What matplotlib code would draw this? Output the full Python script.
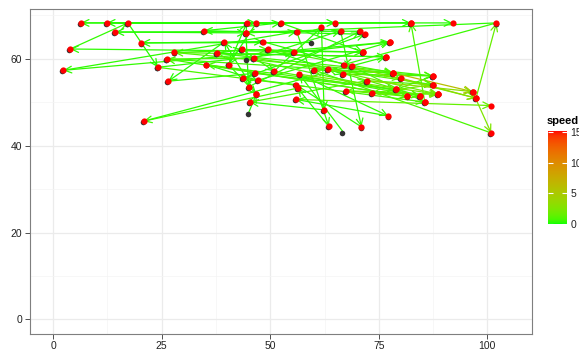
import numpy as np
import matplotlib
matplotlib.use("Agg")
import matplotlib.pyplot as plt
import matplotlib.colors as mcolors
import matplotlib.transforms as mtransforms
from matplotlib.colorbar import ColorbarBase

plt.rcParams['font.family'] = ['Liberation Sans', 'DejaVu Sans']

# ---------------- data ----------------
x_from = [82.4, 65.0, 3.9, 70.7, 71.8, 71.4, 59.6, 77.5, 17.2, 81.6,
          76.6, 39.4, 79.0, 87.5, 46.8, 46.8, 55.9, 40.4, 12.3, 14.3,
          20.3, 27.9, 26.1, 37.7, 26.5, 35.3, 44.4, 45.0, 62.4, 56.3,
          43.5, 34.7, 6.3, 85.6, 44.6, 97.4, 50.9, 2.3, 46.2, 45.0,
          43.7, 47.1, 52.4, 20.8, 24.1, 100.9, 84.5, 102.1, 48.3, 49.5,
          45.3, 60.0, 63.3, 66.8, 72.2, 73.5, 78.3, 80.1, 55.9, 96.6,
          68.8, 44.6, 67.5, 87.5, 87.5, 88.7, 61.8, 56.7, 56.1, 66.2,
          77.2, 63.5, 66.8, 71.0,
          26.1, 27.9, 24.1, 35.3, 37.7, 40.4, 43.5, 46.2, 46.4, 50.9,
          55.4, 49.5, 56.7, 102.1, 17.2, 66.9, 63.3, 72.2]
y_from = [68.2, 68.2, 62.2, 66.3, 65.6, 61.5, 63.7, 63.8, 68.2, 51.3,
          60.4, 63.8, 52.9, 56.0, 51.8, 68.2, 54.0, 58.6, 68.2, 66.1,
          63.6, 61.4, 59.9, 61.2, 54.8, 58.6, 65.9, 47.5, 48.2, 53.2,
          62.1, 66.4, 68.2, 50.0, 68.2, 50.9, 57.1, 57.3, 60.1, 53.5,
          55.5, 55.0, 68.2, 45.6, 58.0, 42.9, 51.4, 68.2, 63.9, 62.1,
          50.0, 57.4, 57.6, 56.4, 54.9, 52.1, 56.7, 55.5, 50.6, 52.4,
          58.2, 59.9, 52.6, 56.0, 54.0, 51.8, 67.2, 56.4, 66.2, 66.4,
          46.8, 44.4, 43.1, 44.3,
          59.9, 61.4, 58.0, 58.6, 61.2, 58.6, 62.1, 60.1, 56.6, 57.1,
          61.4, 62.1, 56.4, 68.2, 68.2, 58.6, 57.6, 54.9]
x_to = [6.3, 12.3, 17.2, 14.3, 34.7, 3.9, 20.3, 2.3, 24.1, 26.1,
        27.9, 26.5, 35.3, 37.7, 39.4, 40.4, 43.7, 44.6, 46.8, 44.4,
        48.3, 49.5, 46.2, 43.5, 46.4, 47.1, 45.0, 46.8, 45.3, 20.8,
        50.9, 52.4, 65.0, 82.4, 92.0, 102.1, 61.8, 56.1, 66.2, 70.7,
        71.8, 77.5, 71.4, 76.6, 55.4, 60.0, 63.3, 66.9, 68.8, 66.8,
        72.2, 78.3, 80.1, 87.5, 87.5, 88.7, 96.6, 97.4, 100.9, 100.9,
        85.6, 84.5, 81.6, 79.0, 73.5, 67.5, 62.4, 77.2, 63.5, 71.0,
        55.9, 56.3, 56.7, 55.9,
        87.5, 78.3, 85.6, 81.6, 76.6, 46.8, 71.4, 87.5, 79.0, 84.5,
        77.5, 78.3, 88.7, 44.4, 82.4, 97.4, 88.7, 96.6]
y_to = [68.2, 68.2, 68.2, 66.1, 66.4, 62.2, 63.6, 57.3, 58.0, 59.9,
        61.4, 54.8, 58.6, 61.2, 63.8, 58.6, 55.5, 68.2, 68.2, 65.9,
        63.9, 62.1, 60.1, 62.1, 56.6, 55.0, 53.5, 51.8, 50.0, 45.6,
        57.1, 68.2, 68.2, 68.2, 68.2, 68.2, 67.2, 66.2, 66.4, 66.3,
        65.6, 63.8, 61.5, 60.4, 61.4, 57.4, 57.6, 58.6, 58.2, 56.4,
        54.9, 56.7, 55.5, 56.0, 54.0, 51.8, 52.4, 50.9, 49.2, 42.9,
        50.0, 51.4, 51.3, 52.9, 52.1, 52.6, 48.2, 46.8, 44.4, 44.3,
        50.6, 53.2, 56.4, 54.0,
        56.0, 56.7, 50.0, 51.3, 60.4, 51.8, 61.5, 54.0, 52.9, 51.4,
        63.8, 56.7, 51.8, 65.9, 68.2, 50.9, 51.8, 52.4]
speed = [0.3, 0.2, 0.4, 0.2, 0.2, 0.3, 0.2, 0.4, 0.2, 0.7,
         1.0, 0.2, 0.7, 0.7, 0.2, 0.2, 0.3, 0.2, 0.2, 0.2,
         0.2, 0.7, 0.7, 0.3, 0.3, 0.3, 0.2, 0.2, 0.3, 0.6,
         0.3, 0.2, 0.2, 0.8, 0.2, 1.6, 0.3, 0.3, 0.3, 0.3,
         0.3, 0.3, 0.3, 0.3, 0.3, 0.8, 0.8, 0.5, 0.3, 0.3,
         0.8, 0.8, 1.5, 0.8, 0.8, 1.8, 6.0, 5.0, 1.5, 2.5,
         0.8, 0.8, 1.5, 0.8, 1.5, 1.5, 0.3, 0.3, 0.3, 0.3,
         0.3, 0.3, 0.3, 0.3,
         0.6, 1.0, 0.8, 0.9, 0.3, 0.3, 0.3, 1.0, 0.6, 0.9,
         0.3, 0.8, 2.0, 0.3, 0.2, 2.4, 1.8, 3.2]
speed_limits = [0, 15.2]
speed_breaks = [0, 5, 10, 15]
x_ticks = [0, 25, 50, 75, 100]
y_ticks = [0, 20, 40, 60]

# ---------------- green -> red gradient interpolated in CIELAB ----------------
def _srgb_to_lab(rgb):
    c = np.asarray(rgb, float)
    lin = np.where(c <= 0.04045, c / 12.92, ((c + 0.055) / 1.055) ** 2.4)
    M = np.array([[0.4124, 0.3576, 0.1805],
                  [0.2126, 0.7152, 0.0722],
                  [0.0193, 0.1192, 0.9505]])
    xyz = M @ lin / np.array([0.95047, 1.0, 1.08883])
    f = np.where(xyz > 0.008856, np.cbrt(xyz), 7.787 * xyz + 16 / 116)
    return np.array([116 * f[1] - 16, 500 * (f[0] - f[1]), 200 * (f[1] - f[2])])

def _lab_to_srgb(lab):
    L, a, b = lab
    fy = (L + 16) / 116
    fx = fy + a / 500
    fz = fy - b / 200
    f = np.array([fx, fy, fz])
    xyz = np.where(f ** 3 > 0.008856, f ** 3, (f - 16 / 116) / 7.787)
    xyz = xyz * np.array([0.95047, 1.0, 1.08883])
    Minv = np.array([[3.2406, -1.5372, -0.4986],
                     [-0.9689, 1.8758, 0.0415],
                     [0.0557, -0.2040, 1.0570]])
    lin = np.clip(Minv @ xyz, 0, 1)
    c = np.where(lin <= 0.0031308, 12.92 * lin, 1.055 * lin ** (1 / 2.4) - 0.055)
    return np.clip(c, 0, 1)

lab_lo = _srgb_to_lab([0, 1, 0])
lab_hi = _srgb_to_lab([1, 0, 0])
ramp = [_lab_to_srgb(lab_lo + (lab_hi - lab_lo) * t) for t in np.linspace(0, 1, 256)]
cmap = mcolors.ListedColormap(ramp)
norm = mcolors.Normalize(vmin=speed_limits[0], vmax=speed_limits[1])

# ---------------- figure ----------------
W, H = 579, 350
fig = plt.figure(figsize=(W / 100, H / 100), dpi=100)
fig.patch.set_facecolor('white')
ax = fig.add_axes([30 / W, (H - 334) / H, (532 - 30) / W, (334 - 9) / H])
ax.set_xlim(-5.35, 110.3)
ax.set_ylim(-3.34, 71.4)

ax.set_xticks(x_ticks)
ax.set_yticks(y_ticks)
ax.set_xticks([12.5, 37.5, 62.5, 87.5], minor=True)
ax.set_yticks([10, 30, 50, 70], minor=True)
ax.grid(which='major', color='#EBEBEB', lw=0.9, zorder=0)
ax.grid(which='minor', color='#F4F4F4', lw=0.5, zorder=0)
ax.set_axisbelow(True)
ax.tick_params(which='major', length=3.4, width=0.6, color='#333333',
               labelsize=7.5, labelcolor='#222222', pad=2.2)
ax.tick_params(axis='x', which='major', pad=1.4)
ax.tick_params(which='minor', length=0)
for s in ax.spines.values():
    s.set_color('#7F7F7F')
    s.set_linewidth(0.8)

# arrows
for x0, y0, x1, y1, sp in zip(x_from, y_from, x_to, y_to, speed):
    ax.annotate('', xy=(x1, y1), xytext=(x0, y0),
                arrowprops=dict(arrowstyle='->,head_length=0.5,head_width=0.24',
                                color=cmap(norm(sp)), lw=0.9,
                                shrinkA=0, shrinkB=0),
                zorder=2)

# dark start points (slightly offset) and red end points
off = mtransforms.ScaledTranslation(-0.8 / 100, -0.8 / 100, fig.dpi_scale_trans)
ax.scatter(x_from, y_from, s=16, color='#333333', lw=0,
           transform=ax.transData + off, zorder=3)
ax.scatter(x_to, y_to, s=20, color='#FF0000', lw=0, zorder=4)

# colour bar legend
cax = fig.add_axes([548 / W, (H - 224) / H, 19 / W, 93 / H])
cb = ColorbarBase(cax, cmap=cmap, norm=norm, orientation='vertical')
cb.outline.set_visible(False)
cb.set_ticks(speed_breaks)
cax.tick_params(direction='in', length=3.5, width=0.8, color='white',
                left=True, right=True, labelleft=False, labelright=True,
                labelsize=7.5, labelcolor='#222222', pad=2.5)
fig.text(547 / W, 1 - 121 / H, 'speed', fontsize=8, fontweight='bold',
         va='center', ha='left', color='black')

fig.savefig('out.png', dpi=100)
